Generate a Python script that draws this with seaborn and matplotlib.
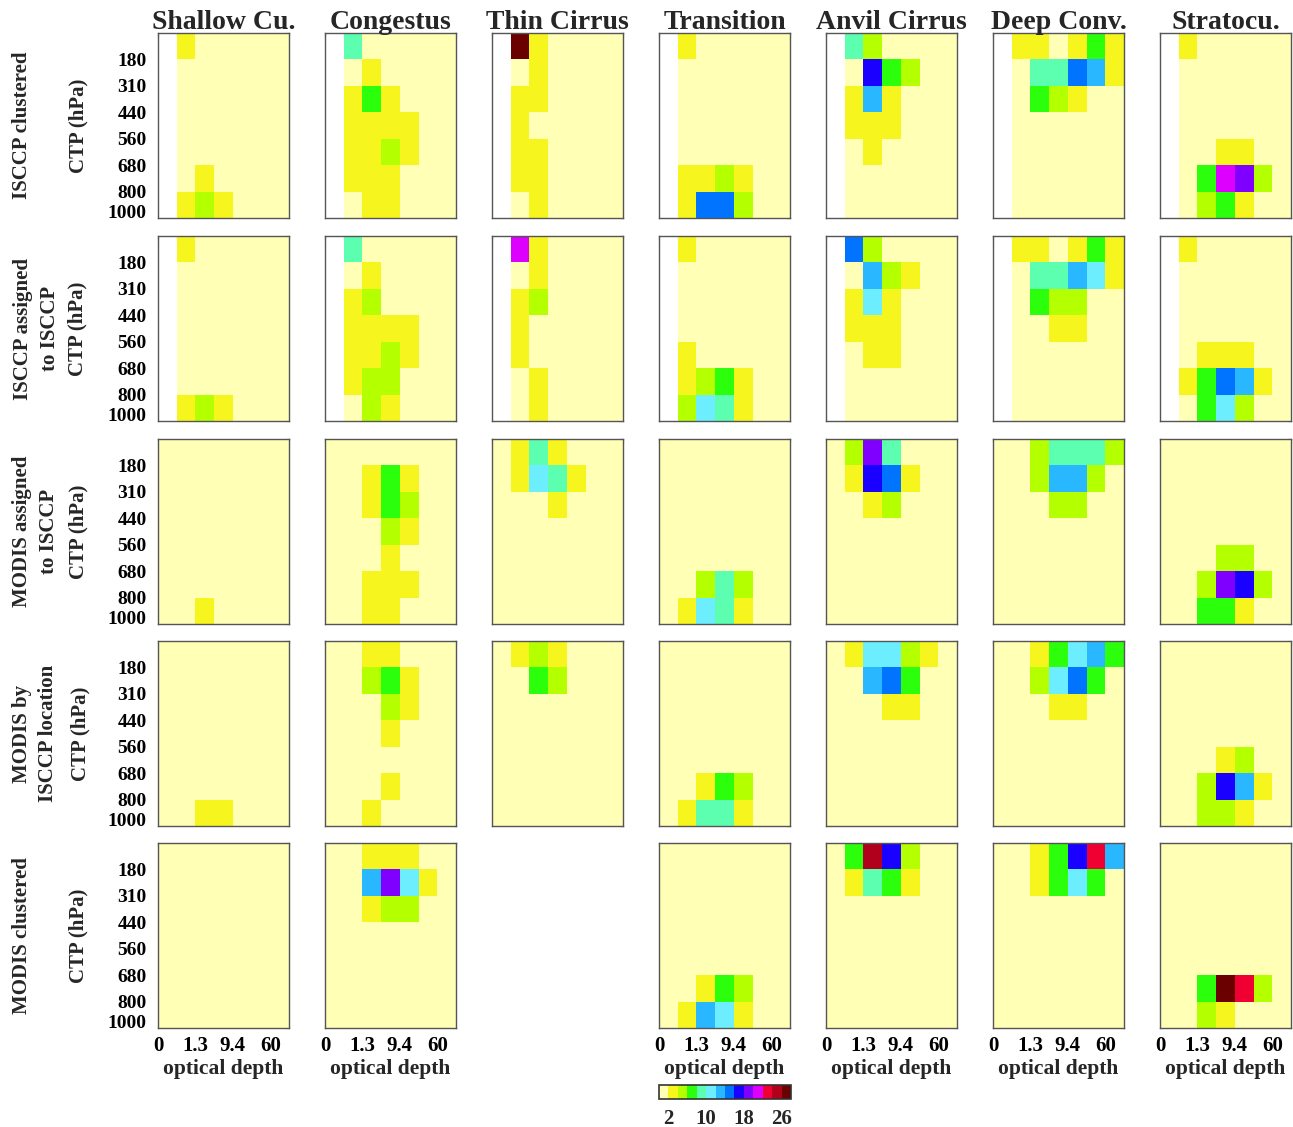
import numpy as np
import matplotlib
matplotlib.use("Agg")
import matplotlib.pyplot as plt
from matplotlib.colors import ListedColormap, Normalize
from matplotlib.cm import ScalarMappable
import seaborn as sns

nan = np.nan

# Cloud-top pressure (rows, top to bottom) x optical depth (columns) histograms, in %
# Rows of each grid: 50-180, 180-310, 310-440, 440-560, 560-680, 680-800, 800-1000 hPa
# Columns: 0-0.3, 0.3-1.3, 1.3-3.6, 3.6-9.4, 9.4-23, 23-60, 60-380

regimes = ["Shallow Cu.", "Congestus", "Thin Cirrus", "Transition",
           "Anvil Cirrus", "Deep Conv.", "Stratocu."]
ctp_labels = ["180", "310", "440", "560", "680", "800", "1000"]
tau_labels = ["0", "1.3", "9.4", "60"]
cbar_ticks = [2, 10, 18, 26]

# --- ISCCP clustered ---
isccp_shallow = [[nan, 3, 1, 1, 1, 1, 1], [nan, 1, 1, 1, 1, 1, 1], [nan, 1, 1, 1, 1, 1, 1],
                 [nan, 1, 1, 1, 1, 1, 1], [nan, 1, 1, 1, 1, 1, 1], [nan, 1, 3, 1, 1, 1, 1],
                 [nan, 3, 5, 3, 1, 1, 1]]
isccp_congestus = [[nan, 9, 1, 1, 1, 1, 1], [nan, 1, 3, 1, 1, 1, 1], [nan, 3, 7, 3, 1, 1, 1],
                   [nan, 3, 3, 3, 3, 1, 1], [nan, 3, 3, 5, 3, 1, 1], [nan, 3, 3, 3, 1, 1, 1],
                   [nan, 1, 3, 3, 1, 1, 1]]
isccp_thin = [[nan, 27, 3, 1, 1, 1, 1], [nan, 1, 3, 1, 1, 1, 1], [nan, 3, 3, 1, 1, 1, 1],
              [nan, 3, 1, 1, 1, 1, 1], [nan, 3, 3, 1, 1, 1, 1], [nan, 3, 3, 1, 1, 1, 1],
              [nan, 1, 3, 1, 1, 1, 1]]
isccp_transition = [[nan, 3, 1, 1, 1, 1, 1], [nan, 1, 1, 1, 1, 1, 1], [nan, 1, 1, 1, 1, 1, 1],
                    [nan, 1, 1, 1, 1, 1, 1], [nan, 1, 1, 1, 1, 1, 1], [nan, 3, 3, 5, 3, 1, 1],
                    [nan, 3, 15, 15, 5, 1, 1]]
isccp_anvil = [[nan, 9, 5, 1, 1, 1, 1], [nan, 1, 17, 7, 5, 1, 1], [nan, 3, 13, 3, 1, 1, 1],
               [nan, 3, 3, 3, 1, 1, 1], [nan, 1, 3, 1, 1, 1, 1], [nan, 1, 1, 1, 1, 1, 1],
               [nan, 1, 1, 1, 1, 1, 1]]
isccp_deep = [[nan, 3, 3, 1, 3, 7, 3], [nan, 1, 9, 9, 15, 13, 3], [nan, 1, 7, 5, 3, 1, 1],
              [nan, 1, 1, 1, 1, 1, 1], [nan, 1, 1, 1, 1, 1, 1], [nan, 1, 1, 1, 1, 1, 1],
              [nan, 1, 1, 1, 1, 1, 1]]
isccp_strato = [[nan, 3, 1, 1, 1, 1, 1], [nan, 1, 1, 1, 1, 1, 1], [nan, 1, 1, 1, 1, 1, 1],
                [nan, 1, 1, 1, 1, 1, 1], [nan, 1, 1, 3, 3, 1, 1], [nan, 1, 7, 21, 19, 5, 1],
                [nan, 1, 5, 7, 3, 1, 1]]

# --- ISCCP assigned to ISCCP ---
assigned_shallow = [[nan, 3, 1, 1, 1, 1, 1], [nan, 1, 1, 1, 1, 1, 1], [nan, 1, 1, 1, 1, 1, 1],
                    [nan, 1, 1, 1, 1, 1, 1], [nan, 1, 1, 1, 1, 1, 1], [nan, 1, 1, 1, 1, 1, 1],
                    [nan, 3, 5, 3, 1, 1, 1]]
assigned_congestus = [[nan, 9, 1, 1, 1, 1, 1], [nan, 1, 3, 1, 1, 1, 1], [nan, 3, 5, 1, 1, 1, 1],
                      [nan, 3, 3, 3, 3, 1, 1], [nan, 3, 3, 5, 3, 1, 1], [nan, 3, 5, 5, 1, 1, 1],
                      [nan, 1, 5, 3, 1, 1, 1]]
assigned_thin = [[nan, 21, 3, 1, 1, 1, 1], [nan, 1, 3, 1, 1, 1, 1], [nan, 3, 5, 1, 1, 1, 1],
                 [nan, 3, 1, 1, 1, 1, 1], [nan, 3, 1, 1, 1, 1, 1], [nan, 1, 3, 1, 1, 1, 1],
                 [nan, 1, 3, 1, 1, 1, 1]]
assigned_transition = [[nan, 3, 1, 1, 1, 1, 1], [nan, 1, 1, 1, 1, 1, 1], [nan, 1, 1, 1, 1, 1, 1],
                       [nan, 1, 1, 1, 1, 1, 1], [nan, 3, 1, 1, 1, 1, 1], [nan, 3, 5, 7, 3, 1, 1],
                       [nan, 5, 11, 9, 3, 1, 1]]
assigned_anvil = [[nan, 15, 5, 1, 1, 1, 1], [nan, 1, 13, 5, 3, 1, 1], [nan, 3, 11, 3, 1, 1, 1],
                  [nan, 3, 3, 3, 1, 1, 1], [nan, 1, 3, 3, 1, 1, 1], [nan, 1, 1, 1, 1, 1, 1],
                  [nan, 1, 1, 1, 1, 1, 1]]
assigned_deep = [[nan, 3, 3, 1, 3, 7, 3], [nan, 1, 9, 9, 13, 11, 3], [nan, 1, 7, 5, 5, 1, 1],
                 [nan, 1, 1, 3, 3, 1, 1], [nan, 1, 1, 1, 1, 1, 1], [nan, 1, 1, 1, 1, 1, 1],
                 [nan, 1, 1, 1, 1, 1, 1]]
assigned_strato = [[nan, 3, 1, 1, 1, 1, 1], [nan, 1, 1, 1, 1, 1, 1], [nan, 1, 1, 1, 1, 1, 1],
                   [nan, 1, 1, 1, 1, 1, 1], [nan, 1, 3, 3, 3, 1, 1], [nan, 3, 7, 15, 13, 3, 1],
                   [nan, 1, 7, 11, 5, 1, 1]]

# --- MODIS assigned to ISCCP ---
modis_assigned_shallow = [[1, 1, 1, 1, 1, 1, 1], [1, 1, 1, 1, 1, 1, 1], [1, 1, 1, 1, 1, 1, 1],
                          [1, 1, 1, 1, 1, 1, 1], [1, 1, 1, 1, 1, 1, 1], [1, 1, 1, 1, 1, 1, 1],
                          [1, 1, 3, 1, 1, 1, 1]]
modis_assigned_congestus = [[1, 1, 1, 1, 1, 1, 1], [1, 1, 3, 7, 3, 1, 1], [1, 1, 3, 7, 5, 1, 1],
                            [1, 1, 1, 5, 3, 1, 1], [1, 1, 1, 3, 1, 1, 1], [1, 1, 3, 3, 3, 1, 1],
                            [1, 1, 3, 3, 1, 1, 1]]
modis_assigned_thin = [[1, 3, 9, 3, 1, 1, 1], [1, 3, 11, 9, 3, 1, 1], [1, 1, 1, 3, 1, 1, 1],
                       [1, 1, 1, 1, 1, 1, 1], [1, 1, 1, 1, 1, 1, 1], [1, 1, 1, 1, 1, 1, 1],
                       [1, 1, 1, 1, 1, 1, 1]]
modis_assigned_transition = [[1, 1, 1, 1, 1, 1, 1], [1, 1, 1, 1, 1, 1, 1], [1, 1, 1, 1, 1, 1, 1],
                             [1, 1, 1, 1, 1, 1, 1], [1, 1, 1, 1, 1, 1, 1], [1, 1, 5, 9, 5, 1, 1],
                             [1, 3, 11, 9, 3, 1, 1]]
modis_assigned_anvil = [[1, 5, 19, 9, 1, 1, 1], [1, 3, 17, 15, 3, 1, 1], [1, 1, 3, 5, 1, 1, 1],
                        [1, 1, 1, 1, 1, 1, 1], [1, 1, 1, 1, 1, 1, 1], [1, 1, 1, 1, 1, 1, 1],
                        [1, 1, 1, 1, 1, 1, 1]]
modis_assigned_deep = [[1, 1, 5, 9, 9, 9, 5], [1, 1, 5, 13, 13, 5, 1], [1, 1, 1, 5, 5, 1, 1],
                       [1, 1, 1, 1, 1, 1, 1], [1, 1, 1, 1, 1, 1, 1], [1, 1, 1, 1, 1, 1, 1],
                       [1, 1, 1, 1, 1, 1, 1]]
modis_assigned_strato = [[1, 1, 1, 1, 1, 1, 1], [1, 1, 1, 1, 1, 1, 1], [1, 1, 1, 1, 1, 1, 1],
                         [1, 1, 1, 1, 1, 1, 1], [1, 1, 1, 5, 5, 1, 1], [1, 1, 5, 19, 17, 5, 1],
                         [1, 1, 7, 7, 3, 1, 1]]

# --- MODIS by ISCCP location ---
modis_loc_shallow = [[1, 1, 1, 1, 1, 1, 1], [1, 1, 1, 1, 1, 1, 1], [1, 1, 1, 1, 1, 1, 1],
                     [1, 1, 1, 1, 1, 1, 1], [1, 1, 1, 1, 1, 1, 1], [1, 1, 1, 1, 1, 1, 1],
                     [1, 1, 3, 3, 1, 1, 1]]
modis_loc_congestus = [[1, 1, 3, 3, 1, 1, 1], [1, 1, 5, 7, 3, 1, 1], [1, 1, 1, 5, 3, 1, 1],
                       [1, 1, 1, 3, 1, 1, 1], [1, 1, 1, 1, 1, 1, 1], [1, 1, 1, 3, 1, 1, 1],
                       [1, 1, 3, 1, 1, 1, 1]]
modis_loc_thin = [[1, 3, 5, 3, 1, 1, 1], [1, 1, 7, 5, 1, 1, 1], [1, 1, 1, 1, 1, 1, 1],
                  [1, 1, 1, 1, 1, 1, 1], [1, 1, 1, 1, 1, 1, 1], [1, 1, 1, 1, 1, 1, 1],
                  [1, 1, 1, 1, 1, 1, 1]]
modis_loc_transition = [[1, 1, 1, 1, 1, 1, 1], [1, 1, 1, 1, 1, 1, 1], [1, 1, 1, 1, 1, 1, 1],
                        [1, 1, 1, 1, 1, 1, 1], [1, 1, 1, 1, 1, 1, 1], [1, 1, 3, 7, 5, 1, 1],
                        [1, 3, 9, 9, 3, 1, 1]]
modis_loc_anvil = [[1, 3, 11, 11, 5, 3, 1], [1, 1, 13, 15, 7, 1, 1], [1, 1, 1, 3, 3, 1, 1],
                   [1, 1, 1, 1, 1, 1, 1], [1, 1, 1, 1, 1, 1, 1], [1, 1, 1, 1, 1, 1, 1],
                   [1, 1, 1, 1, 1, 1, 1]]
modis_loc_deep = [[1, 1, 3, 7, 11, 13, 7], [1, 1, 5, 11, 15, 7, 1], [1, 1, 1, 3, 3, 1, 1],
                  [1, 1, 1, 1, 1, 1, 1], [1, 1, 1, 1, 1, 1, 1], [1, 1, 1, 1, 1, 1, 1],
                  [1, 1, 1, 1, 1, 1, 1]]
modis_loc_strato = [[1, 1, 1, 1, 1, 1, 1], [1, 1, 1, 1, 1, 1, 1], [1, 1, 1, 1, 1, 1, 1],
                    [1, 1, 1, 1, 1, 1, 1], [1, 1, 1, 3, 5, 1, 1], [1, 1, 5, 17, 13, 3, 1],
                    [1, 1, 5, 5, 3, 1, 1]]

# --- MODIS clustered (no thin cirrus regime) ---
modis_shallow = [[1, 1, 1, 1, 1, 1, 1], [1, 1, 1, 1, 1, 1, 1], [1, 1, 1, 1, 1, 1, 1],
                 [1, 1, 1, 1, 1, 1, 1], [1, 1, 1, 1, 1, 1, 1], [1, 1, 1, 1, 1, 1, 1],
                 [1, 1, 1, 1, 1, 1, 1]]
modis_congestus = [[1, 1, 3, 3, 3, 1, 1], [1, 1, 13, 19, 11, 3, 1], [1, 1, 3, 5, 5, 1, 1],
                   [1, 1, 1, 1, 1, 1, 1], [1, 1, 1, 1, 1, 1, 1], [1, 1, 1, 1, 1, 1, 1],
                   [1, 1, 1, 1, 1, 1, 1]]
modis_thin = None
modis_transition = [[1, 1, 1, 1, 1, 1, 1], [1, 1, 1, 1, 1, 1, 1], [1, 1, 1, 1, 1, 1, 1],
                    [1, 1, 1, 1, 1, 1, 1], [1, 1, 1, 1, 1, 1, 1], [1, 1, 3, 7, 5, 1, 1],
                    [1, 3, 13, 11, 3, 1, 1]]
modis_anvil = [[1, 7, 25, 17, 5, 1, 1], [1, 3, 9, 7, 3, 1, 1], [1, 1, 1, 1, 1, 1, 1],
               [1, 1, 1, 1, 1, 1, 1], [1, 1, 1, 1, 1, 1, 1], [1, 1, 1, 1, 1, 1, 1],
               [1, 1, 1, 1, 1, 1, 1]]
modis_deep = [[1, 1, 3, 7, 17, 23, 13], [1, 1, 3, 7, 11, 7, 1], [1, 1, 1, 1, 1, 1, 1],
              [1, 1, 1, 1, 1, 1, 1], [1, 1, 1, 1, 1, 1, 1], [1, 1, 1, 1, 1, 1, 1],
              [1, 1, 1, 1, 1, 1, 1]]
modis_strato = [[1, 1, 1, 1, 1, 1, 1], [1, 1, 1, 1, 1, 1, 1], [1, 1, 1, 1, 1, 1, 1],
                [1, 1, 1, 1, 1, 1, 1], [1, 1, 1, 1, 1, 1, 1], [1, 1, 7, 27, 23, 5, 1],
                [1, 1, 5, 3, 1, 1, 1]]

grid_rows = [
    [isccp_shallow, isccp_congestus, isccp_thin, isccp_transition, isccp_anvil, isccp_deep, isccp_strato],
    [assigned_shallow, assigned_congestus, assigned_thin, assigned_transition, assigned_anvil,
     assigned_deep, assigned_strato],
    [modis_assigned_shallow, modis_assigned_congestus, modis_assigned_thin, modis_assigned_transition,
     modis_assigned_anvil, modis_assigned_deep, modis_assigned_strato],
    [modis_loc_shallow, modis_loc_congestus, modis_loc_thin, modis_loc_transition, modis_loc_anvil,
     modis_loc_deep, modis_loc_strato],
    [modis_shallow, modis_congestus, modis_thin, modis_transition, modis_anvil, modis_deep, modis_strato],
]

# Row annotations: one string per rotated line, with its x position (px)
row_label_lines = [
    [("ISCCP clustered", 22), ("CTP (hPa)", 78)],
    [("ISCCP assigned", 23), ("to ISCCP", 50), ("CTP (hPa)", 77)],
    [("MODIS assigned", 22), ("to ISCCP", 49), ("CTP (hPa)", 78)],
    [("MODIS by", 22), ("ISCCP location", 48), ("CTP (hPa)", 80)],
    [("MODIS clustered", 22), ("CTP (hPa)", 78)],
]

# 14-step frequency colour scale, 2 % per step
palette = ["#FFFFB6", "#F6F61E", "#B4FF00", "#2CFF0C", "#5CFFB0", "#6CEEFF", "#29B8FF",
           "#0073FF", "#1A00FF", "#8000FF", "#DD00FF", "#F00032", "#B0001C", "#6B0000"]
cmap = ListedColormap(palette)
VMIN, VMAX = 0, 28

sns.set_style("white")
plt.rcParams["font.family"] = ["Liberation Serif", "DejaVu Serif"]
plt.rcParams["font.weight"] = "bold"
plt.rcParams["axes.labelweight"] = "bold"

W, H = 1293, 1127
fig = plt.figure(figsize=(W / 100, H / 100), dpi=100)

col_left = [158, 325, 492, 659, 826, 993, 1160]
row_top = [33, 236, 439, 641, 843]
pw, ph = 131, 185
frame_col = "#555555"


def px_rect(x, y, w, h):
    return [x / W, 1 - (y + h) / H, w / W, h / H]


for r, row in enumerate(grid_rows):
    for c, data in enumerate(row):
        if data is None:
            continue
        ax = fig.add_axes(px_rect(col_left[c], row_top[r], pw, ph))
        sns.heatmap(np.array(data, dtype=float), ax=ax, cmap=cmap, vmin=VMIN, vmax=VMAX,
                    cbar=False, xticklabels=False, yticklabels=False, linewidths=0)
        ax.set_xticks(np.arange(8), minor=True)
        ax.set_yticks(np.arange(8), minor=True)
        ax.set_xticks([0, 2, 4, 6])
        ax.set_yticks(np.arange(1, 8))
        if c == 0:
            ax.set_yticklabels(ctp_labels, fontsize=14, fontweight="bold")
            ax.get_yticklabels()[-1].set_va("baseline")
        else:
            ax.set_yticklabels([])
        if r == len(grid_rows) - 1:
            ax.set_xticklabels(tau_labels, fontsize=15, fontweight="bold")
            ax.set_xlabel("optical depth", fontsize=15.5, fontweight="bold", labelpad=2)
        else:
            ax.set_xticklabels([])
            ax.set_xlabel("")
        ax.set_ylabel("")
        ax.tick_params(which="both", direction="in", length=3, width=0.8, colors=frame_col,
                       top=True, right=True, labelcolor="black", pad=6)
        ax.tick_params(axis="y", which="major", pad=8)
        for sp in ax.spines.values():
            sp.set_visible(True)
            sp.set_color(frame_col)
            sp.set_linewidth(1.0)

# Column titles
for c, name in enumerate(regimes):
    fig.text((col_left[c] + pw / 2) / W, 1 - 29 / H, name, ha="center", va="baseline",
             fontsize=20, fontweight="bold")

# Row annotations
for r, lines in enumerate(row_label_lines):
    yc = 1 - (row_top[r] + ph / 2) / H
    for text, x in lines:
        fig.text(x / W, yc, text, rotation=90, ha="center", va="center",
                 fontsize=15, fontweight="bold")

# Colour bar under the Transition column
cax = fig.add_axes(px_rect(659, 1085, 132, 14))
sm = ScalarMappable(norm=Normalize(VMIN, VMAX), cmap=cmap)
cb = fig.colorbar(sm, cax=cax, orientation="horizontal", ticks=cbar_ticks)
cb.ax.tick_params(length=0, pad=7, labelsize=15)
for lab in cb.ax.get_xticklabels():
    lab.set_fontweight("bold")
cb.outline.set_edgecolor("#333333")
cb.outline.set_linewidth(1.2)

fig.savefig("out.png", dpi=100)
